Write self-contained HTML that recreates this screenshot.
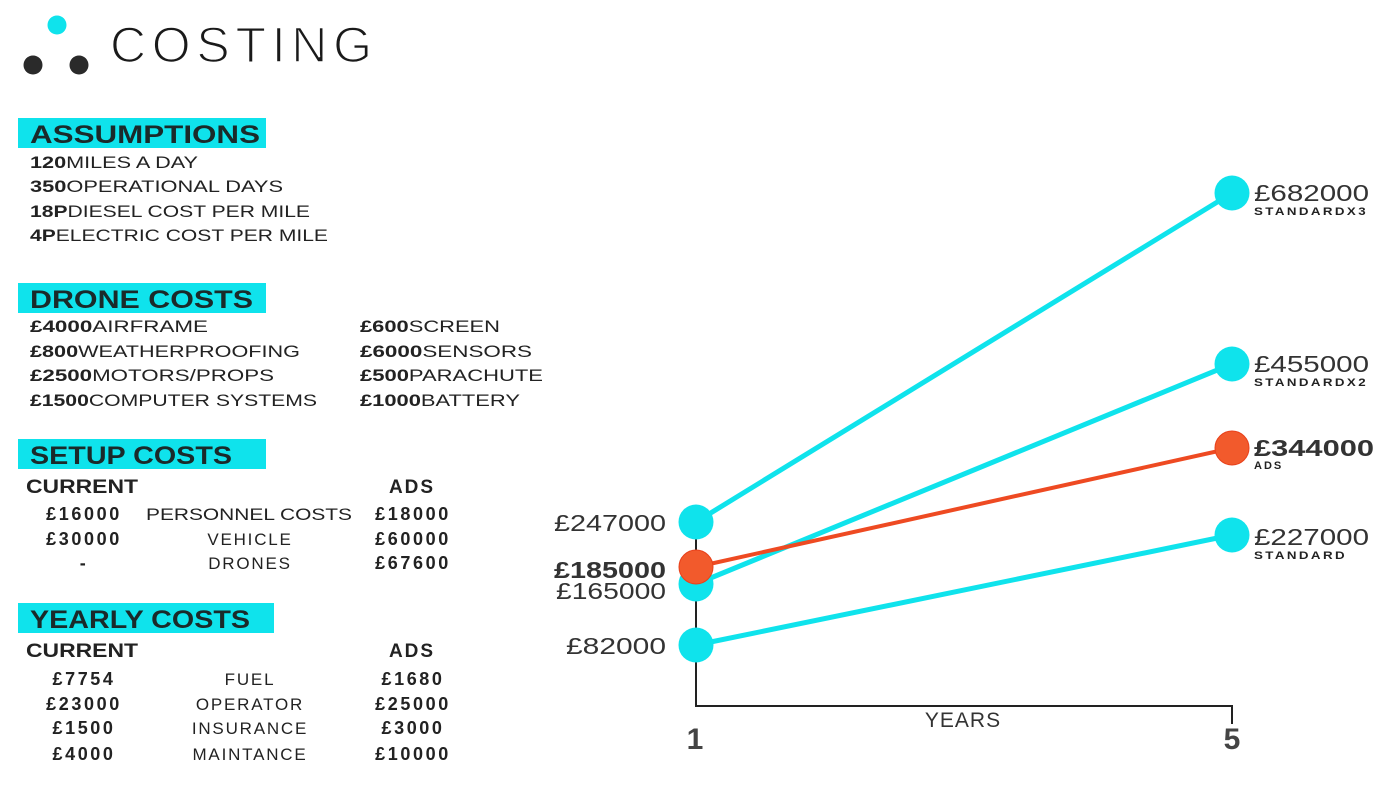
<!DOCTYPE html>
<html><head><meta charset="utf-8"><style>
html,body{margin:0;padding:0;background:#fff;}
svg{display:block;font-family:"Liberation Sans",sans-serif;}
.h{font-weight:bold;font-size:25px;fill:#1a2a2a;}
.t{font-size:17px;fill:#222;}
.b{font-weight:bold;}
.l{font-size:23px;fill:#333;}
.s{font-size:11px;font-weight:bold;fill:#222;letter-spacing:2px;}
.n{font-weight:bold;font-size:18px;letter-spacing:2.6px;}
.m{font-size:17px;letter-spacing:1.8px;}
</style></head><body>
<svg width="1400" height="788" viewBox="0 0 1400 788">
<circle cx="57" cy="25" r="9.5" fill="#0fe3ec"/>
<circle cx="33" cy="65" r="9.5" fill="#2a2a2a"/>
<circle cx="79" cy="65" r="9.5" fill="#2a2a2a"/>
<text x="110" y="62" font-size="50" fill="#1a1a1a" stroke="#fff" stroke-width="1.6" paint-order="normal" textLength="262" lengthAdjust="spacing">COSTING</text>

<rect x="18" y="118" width="248" height="30" fill="#0fe3ec"/>
<text class="h" x="30" y="143" textLength="230" lengthAdjust="spacingAndGlyphs">ASSUMPTIONS</text>
<g class="t">
<text x="30" y="168" textLength="168" lengthAdjust="spacingAndGlyphs"><tspan class="b">120</tspan>MILES A DAY</text>
<text x="30" y="192" textLength="253" lengthAdjust="spacingAndGlyphs"><tspan class="b">350</tspan>OPERATIONAL DAYS</text>
<text x="30" y="217" textLength="280" lengthAdjust="spacingAndGlyphs"><tspan class="b">18P</tspan>DIESEL COST PER MILE</text>
<text x="30" y="241" textLength="298" lengthAdjust="spacingAndGlyphs"><tspan class="b">4P</tspan>ELECTRIC COST PER MILE</text>
</g>

<rect x="18" y="283" width="248" height="30" fill="#0fe3ec"/>
<text class="h" x="30" y="308" textLength="223" lengthAdjust="spacingAndGlyphs">DRONE COSTS</text>
<g class="t">
<text x="30" y="332" textLength="178" lengthAdjust="spacingAndGlyphs"><tspan class="b">£4000</tspan>AIRFRAME</text>
<text x="30" y="357" textLength="270" lengthAdjust="spacingAndGlyphs"><tspan class="b">£800</tspan>WEATHERPROOFING</text>
<text x="30" y="381" textLength="244" lengthAdjust="spacingAndGlyphs"><tspan class="b">£2500</tspan>MOTORS/PROPS</text>
<text x="30" y="406" textLength="287" lengthAdjust="spacingAndGlyphs"><tspan class="b">£1500</tspan>COMPUTER SYSTEMS</text>
<text x="360" y="332" textLength="140" lengthAdjust="spacingAndGlyphs"><tspan class="b">£600</tspan>SCREEN</text>
<text x="360" y="357" textLength="172" lengthAdjust="spacingAndGlyphs"><tspan class="b">£6000</tspan>SENSORS</text>
<text x="360" y="381" textLength="183" lengthAdjust="spacingAndGlyphs"><tspan class="b">£500</tspan>PARACHUTE</text>
<text x="360" y="406" textLength="160" lengthAdjust="spacingAndGlyphs"><tspan class="b">£1000</tspan>BATTERY</text>
</g>

<rect x="18" y="439" width="248" height="30" fill="#0fe3ec"/>
<text class="h" x="30" y="464" textLength="202" lengthAdjust="spacingAndGlyphs">SETUP COSTS</text>
<g class="t" text-anchor="middle">
<text class="b" x="82" y="493" font-size="19" textLength="112" lengthAdjust="spacingAndGlyphs">CURRENT</text>
<text class="b" x="412" y="493" font-size="19" letter-spacing="2">ADS</text>
<text class="n" x="84" y="520">£16000</text>
<text x="249" y="520" textLength="206" lengthAdjust="spacingAndGlyphs">PERSONNEL COSTS</text>
<text class="n" x="413" y="520">£18000</text>
<text class="n" x="84" y="545">£30000</text>
<text class="m" x="250" y="545">VEHICLE</text>
<text class="n" x="413" y="545">£60000</text>
<text class="n" x="84" y="569">-</text>
<text class="m" x="250" y="569">DRONES</text>
<text class="n" x="413" y="569">£67600</text>
</g>

<rect x="18" y="603" width="256" height="30" fill="#0fe3ec"/>
<text class="h" x="30" y="628" textLength="220" lengthAdjust="spacingAndGlyphs">YEARLY COSTS</text>
<g class="t" text-anchor="middle">
<text class="b" x="82" y="657" font-size="19" textLength="112" lengthAdjust="spacingAndGlyphs">CURRENT</text>
<text class="b" x="412" y="657" font-size="19" letter-spacing="2">ADS</text>
<text class="n" x="84" y="685">£7754</text>
<text class="m" x="250" y="685">FUEL</text>
<text class="n" x="413" y="685">£1680</text>
<text class="n" x="84" y="710">£23000</text>
<text class="m" x="250" y="710">OPERATOR</text>
<text class="n" x="413" y="710">£25000</text>
<text class="n" x="84" y="734">£1500</text>
<text class="m" x="250" y="734">INSURANCE</text>
<text class="n" x="413" y="734">£3000</text>
<text class="n" x="84" y="760">£4000</text>
<text class="m" x="250" y="760">MAINTANCE</text>
<text class="n" x="413" y="760">£10000</text>
</g>

<!-- chart -->
<polyline points="696,522 696,706 1232,706 1232,724" fill="none" stroke="#222" stroke-width="2"/>
<g stroke-width="5" stroke-linecap="round">
<line x1="696" y1="522" x2="1232" y2="193" stroke="#0fe3ec"/>
<line x1="696" y1="584" x2="1232" y2="364" stroke="#0fe3ec"/>
<line x1="696" y1="645" x2="1232" y2="535" stroke="#0fe3ec"/>
<line x1="696" y1="567" x2="1232" y2="448" stroke="#ee4a22" stroke-width="4"/>
</g>
<g fill="#0fe3ec">
<circle cx="696" cy="522" r="17.5"/>
<circle cx="696" cy="584" r="17.5"/>
<circle cx="696" cy="645" r="17.5"/>
<circle cx="1232" cy="193" r="17.5"/>
<circle cx="1232" cy="364" r="17.5"/>
<circle cx="1232" cy="535" r="17.5"/>
</g>
<circle cx="696" cy="567" r="17" fill="#f25a2c" stroke="#e8401a" stroke-width="1"/>
<circle cx="1232" cy="448" r="17" fill="#f25a2c" stroke="#e8401a" stroke-width="1"/>

<g class="l" text-anchor="end">
<text x="666" y="531" textLength="112" lengthAdjust="spacingAndGlyphs">£247000</text>
<text x="666" y="578" class="b" textLength="112" lengthAdjust="spacingAndGlyphs">£185000</text>
<text x="666" y="599" textLength="110" lengthAdjust="spacingAndGlyphs">£165000</text>
<text x="666" y="654" textLength="100" lengthAdjust="spacingAndGlyphs">£82000</text>
</g>
<g class="l">
<text x="1254" y="201" textLength="115" lengthAdjust="spacingAndGlyphs">£682000</text>
<text x="1254" y="372" textLength="115" lengthAdjust="spacingAndGlyphs">£455000</text>
<text x="1254" y="456" class="b" textLength="120" lengthAdjust="spacingAndGlyphs">£344000</text>
<text x="1254" y="545" textLength="115" lengthAdjust="spacingAndGlyphs">£227000</text>
</g>
<text class="s" x="1254" y="215" textLength="114" lengthAdjust="spacingAndGlyphs">STANDARDX3</text>
<text class="s" x="1254" y="386" textLength="114" lengthAdjust="spacingAndGlyphs">STANDARDX2</text>
<text class="s" x="1254" y="469">ADS</text>
<text class="s" x="1254" y="559" textLength="93" lengthAdjust="spacingAndGlyphs">STANDARD</text>
<text x="963" y="727" font-size="21" fill="#333" text-anchor="middle" letter-spacing="1">YEARS</text>
<text x="695" y="749" font-size="30" font-weight="bold" fill="#444" text-anchor="middle">1</text>
<text x="1232" y="749" font-size="30" font-weight="bold" fill="#444" text-anchor="middle">5</text>
</svg>
</body></html>
